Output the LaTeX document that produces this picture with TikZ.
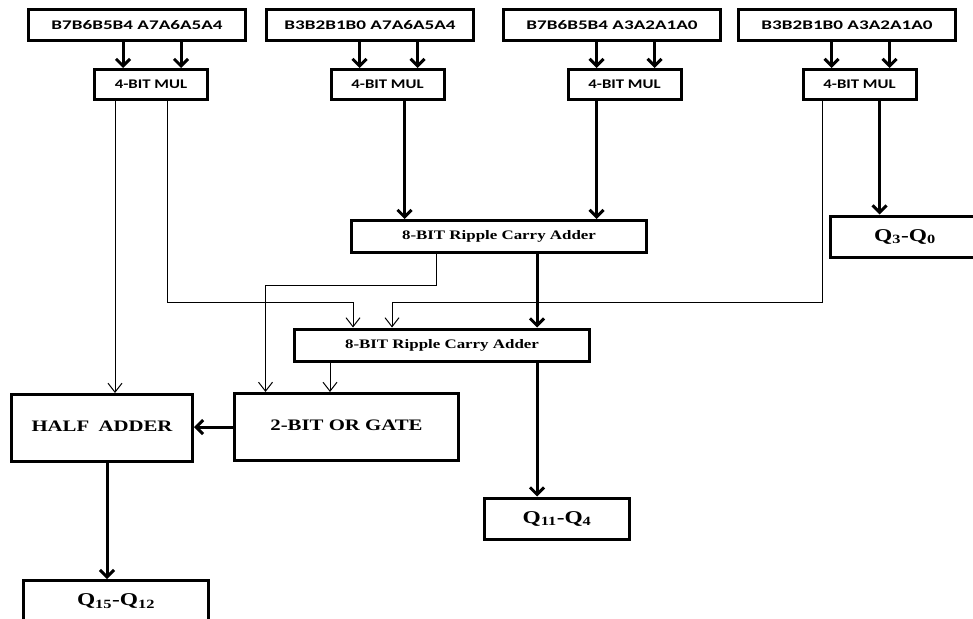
\documentclass[tikz,border=0pt]{standalone}
\usepackage{fontspec}
\usetikzlibrary{arrows.meta}
\newfontfamily\inpfont[FakeStretch=1.45]{Carlito}
\newfontfamily\mulfont[FakeStretch=1.27]{Carlito}
\newfontfamily\blkfont[FakeStretch=1.3]{Liberation Serif}

\begin{document}
\begin{tikzpicture}[x=1pt, y=-1pt,
    inbox/.style={rectangle, draw, line width=3pt, inner sep=0pt, minimum width=217pt, minimum height=31pt, font=\inpfont\bfseries\fontsize{13.2}{15}\selectfont},
    mulbox/.style={rectangle, draw, line width=3pt, inner sep=0pt, minimum width=113pt, minimum height=30pt, font=\mulfont\bfseries\fontsize{13.2}{15}\selectfont},
    rcabox/.style={rectangle, draw, line width=3pt, inner sep=0pt, minimum width=295pt, minimum height=32pt, font=\blkfont\bfseries\fontsize{13}{15}\selectfont},
    blkbox/.style={rectangle, draw, line width=3pt, inner sep=0pt, minimum height=67pt, font=\blkfont\bfseries\fontsize{16}{18}\selectfont},
    outbox/.style={rectangle, draw, line width=3pt, inner sep=0pt, minimum height=41pt, font=\blkfont\bfseries\fontsize{18}{20}\selectfont},
    bigarrow/.style={-{Straight Barb[length=7pt,width=14pt]}, line width=3pt},
    thinarrow/.style={-{Straight Barb[length=9pt,width=14pt]}, line width=1pt}
]
\useasboundingbox (0,0) rectangle (973,618);

% Operand pairs
\node[inbox] (in1) at (137,25) {B7B6B5B4 A7A6A5A4};
\node[inbox, minimum width=207pt] (in2) at (370,25) {B3B2B1B0 A7A6A5A4};
\node[inbox] (in3) at (612,25) {B7B6B5B4 A3A2A1A0};
\node[inbox] (in4) at (847,25) {B3B2B1B0 A3A2A1A0};

% Multipliers
\node[mulbox] (mul1) at (151,84.5) {4-BIT MUL};
\node[mulbox] (mul2) at (387.5,84.5) {4-BIT MUL};
\node[mulbox] (mul3) at (624.5,84.5) {4-BIT MUL};
\node[mulbox] (mul4) at (859.5,84.5) {4-BIT MUL};

% Adders and gates
\node[rcabox] (rca1) at (499,236.5) {8-BIT Ripple Carry Adder};
\node[rcabox] (rca2) at (442,345) {8-BIT Ripple Carry Adder};
\node[blkbox, minimum width=181pt] (half) at (102,428) {\raisebox{3pt}{HALF\hspace{0.25em} ADDER}};
\node[blkbox, minimum width=224pt] (orgate) at (346.5,427) {\raisebox{4pt}{2-BIT OR GATE}};

% Outputs
\node[outbox, minimum width=185pt] (q15) at (116,601) {Q\textsubscript{15}-Q\textsubscript{12}};
\node[outbox, minimum width=145pt] (q11) at (557,518.5) {Q\textsubscript{11}-Q\textsubscript{4}};
\node[outbox, minimum width=149pt] (q3) at (905,236.5) {Q\textsubscript{3}-Q\textsubscript{0}};

% Operands into multipliers
\foreach \i in {1,...,4}{
  \draw[bigarrow] ([xshift=-28pt]mul\i.north |- in\i.south) -- ([xshift=-28pt]mul\i.north);
  \draw[bigarrow] ([xshift=30pt]mul\i.north |- in\i.south) -- ([xshift=30pt]mul\i.north);
}

% Partial products
\draw[thinarrow] ([xshift=-36pt]mul1.south) -- ([xshift=-36pt]mul1.south |- half.north);
\draw[thinarrow] ([xshift=16pt]mul1.south) |- ([xshift=-89pt,yshift=25pt]rca2.north) -- ([xshift=-89pt]rca2.north);
\draw[bigarrow] ([xshift=17pt]mul2.south) -- ([xshift=17pt]mul2.south |- rca1.north);
\draw[bigarrow] ([xshift=-28pt]mul3.south) -- ([xshift=-28pt]mul3.south |- rca1.north);
\draw[bigarrow] ([xshift=20pt]mul4.south) -- ([xshift=20pt]mul4.south |- q3.north);
\draw[thinarrow] ([xshift=-37pt]mul4.south) |- ([xshift=-50pt,yshift=25pt]rca2.north) -- ([xshift=-50pt]rca2.north);

% Adder outputs
\draw[thinarrow] ([xshift=-63pt]rca1.south) |- ([xshift=-81pt,yshift=107pt]orgate.north) -- ([xshift=-81pt]orgate.north);
\draw[bigarrow] ([xshift=38pt]rca1.south) -- ([xshift=38pt]rca1.south |- rca2.north);
\draw[thinarrow] ([xshift=-112pt]rca2.south) -- ([xshift=-112pt]rca2.south |- orgate.north);
\draw[bigarrow] ([xshift=95pt]rca2.south) -- ([xshift=95pt]rca2.south |- q11.north);

% Final carry
\draw[bigarrow] (orgate.west) -- (orgate.west -| half.east);
\draw[bigarrow] ([xshift=5pt]half.south) -- ([xshift=5pt]half.south |- q15.north);

\end{tikzpicture}
\end{document}
